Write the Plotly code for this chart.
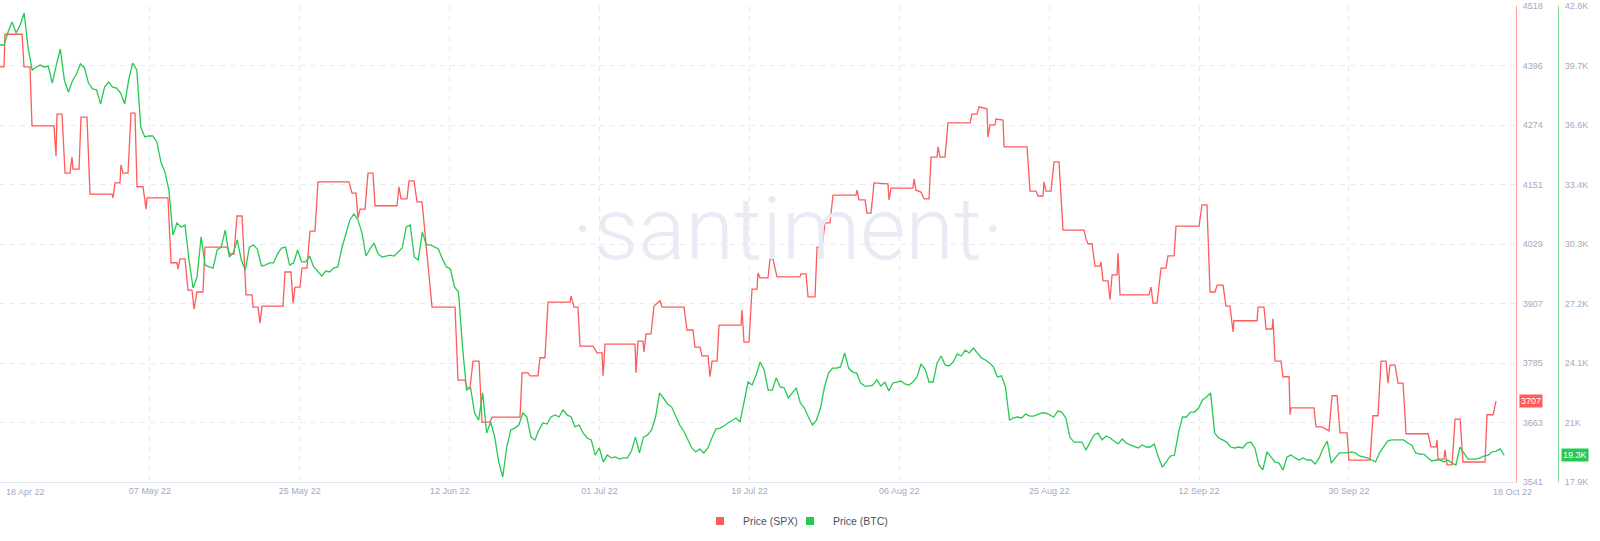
import pandas as pd
import plotly.graph_objects as go

# ---------------- data ----------------
start_date = "2022-04-18"

# S&P 500 (SPX): time in days since 18 Apr 2022, and price
spx_days = [
    0, 0.49, 0.61, 2.69, 2.93, 3.66, 3.91, 6.59, 6.84, 6.96,
    7.57, 7.94, 8.55, 8.79, 8.91, 9.65, 9.89, 10.62, 10.99, 13.68,
    13.80, 14.04, 14.65, 14.77, 15.02, 15.63, 16.00, 16.48, 16.73, 17.46,
    17.83, 17.95, 20.51, 20.88, 21.61, 21.73, 21.98, 22.59, 22.95, 23.44,
    23.69, 24.05, 24.79, 25.03, 27.72, 28.08, 28.57, 28.94, 29.55, 30.04,
    30.77, 30.89, 31.50, 31.75, 31.99, 34.55, 34.80, 35.53, 35.78, 36.02,
    36.63, 36.87, 37.48, 37.85, 38.46, 38.83, 42.61, 42.98, 43.47, 43.71,
    43.96, 44.57, 44.93, 45.54, 45.79, 48.47, 48.72, 48.96, 49.69, 49.94,
    50.55, 50.92, 51.53, 52.75, 55.56, 55.92, 56.78, 57.02, 57.39, 57.75,
    58.49, 58.85, 59.83, 60.07, 63.49, 63.74, 64.47, 64.71, 65.69, 65.93,
    66.54, 66.91, 69.60, 69.72, 70.09, 70.57, 70.82, 72.41, 72.89, 73.50,
    73.63, 73.87, 77.53, 77.66, 77.90, 78.51, 78.63, 78.88, 79.49, 79.85,
    80.59, 80.83, 83.52, 83.88, 84.61, 84.86, 85.47, 85.71, 86.45, 86.69,
    86.94, 87.55, 87.79, 90.48, 90.60, 90.84, 91.45, 91.82, 92.43, 92.55,
    92.80, 93.77, 94.02, 94.38, 94.87, 97.68, 97.80, 98.41, 98.66, 99.51,
    99.76, 100.37, 100.73, 101.34, 101.71, 104.52, 104.64, 104.88, 105.62, 105.86,
    106.35, 106.72, 108.42, 108.55, 108.79, 111.48, 111.60, 111.84, 112.45, 112.82,
    113.43, 113.68, 114.41, 114.53, 114.77, 115.38, 115.75, 118.44, 118.68, 119.29,
    119.54, 120.27, 120.51, 120.63, 120.88, 121.49, 121.61, 122.47, 122.59, 125.40,
    125.76, 126.50, 126.74, 127.35, 127.47, 127.72, 128.33, 128.69, 129.30, 129.79,
    132.36, 132.60, 132.84, 133.33, 133.70, 134.31, 134.43, 134.68, 135.29, 135.53,
    135.78, 136.39, 136.51, 136.75, 140.29, 140.54, 140.78, 141.27, 141.76, 142.37,
    142.61, 143.35, 143.59, 146.40, 146.76, 147.37, 147.74, 148.35, 148.60, 149.33,
    149.69, 150.18, 150.43, 150.55, 150.67, 153.48, 153.60, 154.33, 154.58, 155.31,
    155.43, 155.68, 156.41, 156.65, 157.39, 157.51, 157.63, 160.44, 160.68, 161.42,
    162.27, 162.64, 163.25, 163.61, 164.47, 164.71, 167.28, 167.64, 168.25, 168.62,
    169.23, 169.47, 169.72, 170.33, 170.70, 171.31, 171.67, 174.36, 174.72, 175.33,
    175.46, 175.58, 176.31, 176.43, 176.68, 177.29, 177.66, 178.27, 178.63, 181.32,
    181.56, 182.30, 182.66,
]
spx_price = [
    4393, 4393, 4460, 4460, 4393, 4393, 4272, 4272, 4210, 4296,
    4296, 4175, 4175, 4208, 4183, 4183, 4290, 4290, 4132, 4132,
    4124, 4155, 4155, 4192, 4175, 4175, 4298, 4298, 4147, 4147,
    4101, 4124, 4124, 3991, 3991, 3978, 3999, 3999, 3935, 3935,
    3896, 3931, 3931, 4023, 4023, 4009, 4009, 4087, 4087, 3925,
    3925, 3900, 3900, 3867, 3902, 3902, 3972, 3972, 3908, 3941,
    3941, 3980, 3980, 4056, 4056, 4157, 4157, 4134, 4134, 4083,
    4101, 4101, 4175, 4175, 4108, 4108, 4147, 4122, 4122, 4159,
    4159, 4116, 4116, 3900, 3900, 3750, 3750, 3734, 3734, 3789,
    3789, 3664, 3664, 3674, 3674, 3765, 3765, 3759, 3759, 3796,
    3796, 3910, 3910, 3923, 3900, 3900, 3820, 3820, 3806, 3806,
    3759, 3824, 3824, 3765, 3830, 3830, 3808, 3845, 3845, 3902,
    3913, 3900, 3900, 3853, 3853, 3818, 3818, 3800, 3800, 3757,
    3789, 3789, 3863, 3863, 3894, 3828, 3828, 3937, 3937, 3970,
    3960, 3960, 3999, 3999, 3962, 3962, 3968, 3968, 3921, 3921,
    4023, 4023, 4073, 4073, 4130, 4130, 4140, 4120, 4120, 4093,
    4093, 4155, 4153, 4120, 4144, 4144, 4163, 4140, 4136, 4122,
    4122, 4208, 4208, 4229, 4208, 4208, 4278, 4278, 4296, 4296,
    4311, 4307, 4307, 4249, 4274, 4274, 4286, 4284, 4229, 4229,
    4138, 4138, 4128, 4128, 4157, 4138, 4138, 4198, 4198, 4058,
    4058, 4040, 4030, 4030, 3984, 3984, 3993, 3954, 3954, 3915,
    3966, 3966, 4011, 3925, 3925, 3941, 3908, 3908, 3980, 3980,
    4005, 4005, 4066, 4066, 4110, 4110, 3931, 3931, 3945, 3945,
    3902, 3902, 3872, 3849, 3872, 3872, 3900, 3900, 3855, 3855,
    3876, 3789, 3789, 3757, 3757, 3679, 3693, 3693, 3654, 3654,
    3646, 3718, 3718, 3642, 3642, 3586, 3586, 3677, 3677, 3789,
    3789, 3744, 3781, 3781, 3744, 3744, 3640, 3640, 3613, 3613,
    3627, 3588, 3588, 3607, 3576, 3576, 3670, 3670, 3582, 3582,
    3679, 3679, 3707,
]

# Bitcoin price (thousand USD), evenly sampled from 18 Apr to 18 Oct 2022 (~11.7 h steps)
btc_end = "2022-10-18 15:50"
btc_price_k = [
    40.76, 40.76, 41.44, 41.96, 41.39, 41.81, 42.43, 40.60, 39.45, 39.61,
    39.71, 39.61, 39.66, 38.77, 39.71, 40.55, 38.93, 38.30, 38.88, 39.24,
    39.77, 39.56, 38.77, 38.46, 38.41, 37.67, 38.56, 38.82, 38.56, 38.51,
    38.25, 37.67, 38.93, 39.82, 39.45, 36.47, 35.95, 36.00, 36.00, 35.69,
    34.64, 34.12, 33.17, 30.82, 31.45, 31.24, 31.34, 29.51, 28.05, 28.62,
    30.72, 29.25, 29.15, 29.10, 30.04, 30.19, 31.08, 29.67, 29.88, 30.56,
    29.51, 28.99, 30.19, 30.30, 30.09, 29.20, 29.25, 29.36, 29.36, 29.83,
    30.14, 30.19, 29.25, 29.36, 30.04, 29.41, 29.41, 29.72, 29.15, 28.89,
    28.68, 28.94, 28.89, 29.10, 29.15, 30.14, 30.87, 31.61, 31.92, 31.61,
    30.93, 29.72, 30.09, 30.40, 29.83, 29.67, 29.72, 29.77, 29.72, 29.93,
    30.14, 31.24, 31.34, 29.67, 29.51, 30.98, 30.30, 30.30, 30.19, 30.09,
    29.57, 29.15, 29.04, 28.10, 27.84, 24.96, 22.71, 22.82, 21.51, 21.14,
    22.56, 20.46, 21.04, 20.25, 18.95, 18.16, 19.73, 20.62, 20.72, 20.88,
    21.51, 21.30, 20.25, 20.10, 20.62, 20.99, 20.93, 21.30, 21.41, 21.30,
    21.67, 21.41, 21.30, 20.78, 20.88, 20.46, 20.20, 20.10, 19.31, 19.68,
    18.95, 19.31, 19.16, 19.21, 19.10, 19.16, 19.16, 19.52, 20.25, 19.42,
    20.25, 20.36, 20.62, 21.30, 22.56, 22.24, 21.98, 21.82, 21.30, 20.88,
    20.57, 20.15, 19.68, 19.47, 19.63, 19.42, 19.68, 20.20, 20.67, 20.72,
    20.83, 20.99, 21.14, 21.25, 21.04, 22.19, 23.13, 22.97, 23.50, 24.18,
    23.76, 22.71, 22.71, 23.34, 22.87, 22.82, 22.30, 22.56, 22.82, 22.03,
    21.77, 21.30, 20.88, 21.14, 21.77, 22.87, 23.60, 23.86, 23.86, 23.92,
    24.65, 23.86, 23.65, 23.60, 23.08, 22.92, 22.92, 22.97, 23.24, 22.92,
    23.13, 22.66, 23.08, 23.13, 23.18, 23.03, 22.97, 23.13, 23.39, 24.07,
    23.81, 23.13, 23.13, 24.13, 24.49, 24.02, 23.97, 24.18, 24.60, 24.49,
    24.80, 24.65, 24.91, 24.65, 24.39, 24.28, 24.13, 23.92, 23.39, 23.45,
    22.87, 21.14, 21.25, 21.30, 21.25, 21.46, 21.35, 21.35, 21.41, 21.51,
    21.51, 21.41, 21.30, 21.61, 21.56, 21.25, 20.25, 19.99, 19.99, 19.99,
    19.57, 19.94, 20.36, 20.46, 20.10, 20.31, 20.20, 20.04, 19.89, 20.15,
    19.94, 19.84, 19.78, 19.68, 19.84, 19.73, 19.73, 19.89, 19.21, 18.68,
    18.95, 19.26, 19.31, 20.46, 21.30, 21.30, 21.56, 21.56, 21.77, 22.19,
    22.35, 22.56, 20.46, 20.20, 20.10, 19.99, 19.73, 19.68, 19.73, 19.68,
    19.94, 19.99, 19.68, 18.79, 18.53, 19.47, 19.21, 18.95, 18.89, 18.53,
    19.21, 19.31, 19.16, 19.05, 19.16, 19.05, 19.05, 18.84, 19.16, 19.68,
    20.04, 18.89, 19.16, 19.42, 19.42, 19.42, 19.47, 19.42, 19.26, 19.21,
    19.16, 19.05, 18.95, 19.42, 19.73, 20.04, 20.10, 20.10, 20.10, 20.10,
    19.94, 19.84, 19.42, 19.36, 19.36, 19.16, 19.00, 19.05, 19.05, 18.95,
    19.05, 18.89, 18.79, 19.73, 19.42, 19.10, 19.10, 19.10, 19.16, 19.26,
    19.31, 19.47, 19.52, 19.63, 19.30,
]

# axis ticks
x_tick_labels = ["", "07 May 22", "25 May 22", "12 Jun 22", "01 Jul 22",
                 "19 Jul 22", "06 Aug 22", "25 Aug 22", "12 Sep 22", "30 Sep 22"]
x_first_label = "18 Apr 22"
x_last_label = "18 Oct 22"
spx_tick_labels = ["3541", "3663", "3785", "3907", "4029", "4151", "4274", "4396", "4518"]
btc_tick_labels = ["17.9K", "21K", "24.1K", "27.2K", "30.3K", "33.4K", "36.6K", "39.7K", "42.8K"]
spx_range = [3541, 4518]
btc_range = [17.9, 42.8]

# ---------------- build ----------------
RED = "#ff5b5b"
GREEN = "#26c953"
TICK_C = "#a3a9c2"
GRID_C = "#e8eaf3"

start = pd.Timestamp(start_date)
n = min(len(spx_days), len(spx_price))
spx_x = [start + pd.Timedelta(days=d) for d in spx_days[:n]]
spx_y = spx_price[:n]
btc_x = pd.date_range(start, pd.Timestamp(btc_end), periods=len(btc_price_k))

tick_step_days = 18.3
x_tickvals = [start + pd.Timedelta(days=tick_step_days * k) for k in range(len(x_tick_labels))]
x_range = [start, start + pd.Timedelta(days=185.1)]

n_y = len(spx_tick_labels) - 1
spx_tickvals = [spx_range[0] + (spx_range[1] - spx_range[0]) * k / n_y for k in range(n_y + 1)]
btc_tickvals = [btc_range[0] + (btc_range[1] - btc_range[0]) * k / n_y for k in range(n_y + 1)]

W, H = 1600, 541
ML, MR, MT, MB = 0, 36, 6, 59
paper_w = W - ML - MR
x_dom_end = 1516 / paper_w
btc_axis_pos = 1558 / paper_w

NB = "\u00a0"
fig = go.Figure()
fig.add_trace(go.Scatter(x=spx_x, y=spx_y, mode="lines", name="Price (SPX)",
                         line=dict(color=RED, width=1.3), yaxis="y", showlegend=False))
fig.add_trace(go.Scatter(x=btc_x, y=btc_price_k, mode="lines", name="Price (BTC)",
                         line=dict(color=GREEN, width=1.3), yaxis="y2", showlegend=False))
# legend entries with square swatches
fig.add_trace(go.Scatter(x=[None], y=[None], mode="markers", name=NB + "Price (SPX)",
                         marker=dict(symbol="square", size=8, color=RED), yaxis="y"))
fig.add_trace(go.Scatter(x=[None], y=[None], mode="markers", name=NB + "Price (BTC)",
                         marker=dict(symbol="square", size=8, color=GREEN), yaxis="y2"))
# invisible spacer entry so the last legend label is not clipped
fig.add_trace(go.Scatter(x=[None], y=[None], mode="markers", name=" ",
                         marker=dict(symbol="square", size=1, color="rgba(0,0,0,0)"), yaxis="y"))

tick_font = dict(family="Liberation Sans, Arial, sans-serif", size=9, color=TICK_C)

fig.update_layout(
    width=W, height=H, template="none",
    margin=dict(l=ML, r=MR, t=MT, b=MB, autoexpand=False),
    paper_bgcolor="white", plot_bgcolor="white",
    xaxis=dict(
        type="date", domain=[0, x_dom_end], range=x_range,
        tickmode="array", tickvals=x_tickvals, ticktext=x_tick_labels,
        showgrid=True, gridcolor=GRID_C, gridwidth=1, griddash="5px,5px",
        showline=True, linecolor="#e4e6ef", linewidth=1,
        ticks="", tickfont=tick_font, zeroline=False, automargin=False,
    ),
    yaxis=dict(
        side="right", anchor="x", range=spx_range,
        tickmode="array", tickvals=spx_tickvals, ticktext=spx_tick_labels,
        showgrid=True, gridcolor=GRID_C, gridwidth=1, griddash="5px,5px",
        showline=True, linecolor="rgba(255,91,91,0.6)", linewidth=1,
        ticks="outside", ticklen=4, tickcolor="rgba(0,0,0,0)",
        tickfont=tick_font, zeroline=False, automargin=False,
    ),
    yaxis2=dict(
        overlaying="y", side="right", anchor="free", position=btc_axis_pos,
        range=btc_range, tickmode="array", tickvals=btc_tickvals, ticktext=btc_tick_labels,
        showgrid=False, showline=True, linecolor="rgba(38,201,83,0.6)", linewidth=1,
        ticks="outside", ticklen=4, tickcolor="rgba(0,0,0,0)",
        tickfont=tick_font, zeroline=False, automargin=False,
    ),
    legend=dict(
        orientation="h", x=(724 - 24) / paper_w, xanchor="left", y=-0.082, yanchor="middle",
        font=dict(family="Liberation Sans, Arial, sans-serif", size=10.5, color="#4b5162"),
        itemwidth=30, entrywidthmode="pixels", entrywidth=45,
        bgcolor="rgba(0,0,0,0)",
    ),
    hovermode=False,
)

annotations = [
    # watermark
    dict(text="·santiment·", xref="paper", yref="paper",
         x=788 / paper_w, y=(482 - 228) / 476, xanchor="center", yanchor="middle",
         showarrow=False,
         font=dict(family="Roboto, sans-serif", size=88, color="#e9ebf4", weight=300)),
    # first / last date labels
    dict(text=x_first_label, xref="x domain", yref="paper", x=0, y=0, xanchor="left",
         yanchor="top", xshift=4, yshift=-3, showarrow=False, font=tick_font),
    dict(text=x_last_label, xref="x domain", yref="paper", x=1, y=0, xanchor="center",
         yanchor="top", xshift=-4, yshift=-3, showarrow=False, font=tick_font),
    # last value badges
    dict(text=f"{spx_y[-1]:.0f}", xref="x domain", yref="y", x=1, y=spx_y[-1],
         xanchor="left", yanchor="middle", xshift=3, showarrow=False,
         bgcolor=RED, borderpad=1,
         font=dict(family="Liberation Sans, Arial, sans-serif", size=9, color="white")),
    dict(text=f"{btc_price_k[-1]:.1f}K", xref="paper", yref="y2", x=btc_axis_pos, y=btc_price_k[-1],
         xanchor="left", yanchor="middle", xshift=3, showarrow=False,
         bgcolor=GREEN, borderpad=1,
         font=dict(family="Liberation Sans, Arial, sans-serif", size=9, color="white")),
]
fig.update_layout(annotations=annotations)

fig.write_html("out.html", config={"displayModeBar": False},
               post_script="document.body.style.margin='0px';")
